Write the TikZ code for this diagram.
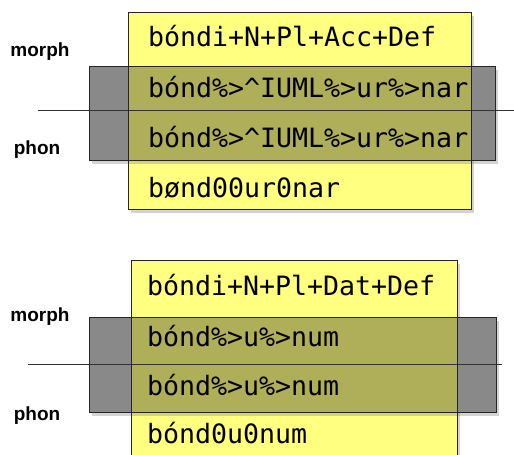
\documentclass[tikz,border=0pt]{standalone}
\usepackage{fontspec}
\newfontfamily\formfont{DejaVu Sans Mono}
\newfontfamily\tierfont{Liberation Sans}
\usetikzlibrary{shadows}

\definecolor{paleyellow}{HTML}{FFFF80}
\definecolor{rulegray}{HTML}{898989}
\definecolor{overlapolive}{HTML}{AFAF5A}

\begin{document}
\begin{tikzpicture}[x=1pt,y=-1pt]
	\tikzset{every node/.style={inner sep=0pt, outer sep=0pt},
		boxshadow/.style={drop shadow={shadow xshift=3pt, shadow yshift=-4pt, opacity=0.35}},
		formbox/.style={rectangle, fill=paleyellow, boxshadow},
		rulebox/.style={rectangle, fill=rulegray, boxshadow},
		boxline/.style={draw=black!85, line width=1pt},
		cutline/.style={draw=black!80, line width=1pt},
		form/.style={anchor=base west, font=\formfont\fontsize{26.6}{30}\selectfont},
		tier/.style={anchor=base, font=\tierfont\bfseries\fontsize{19}{22}\selectfont}}
	\useasboundingbox (0,0) rectangle (514,455);
	\clip (0,0) rectangle (514,455);

	% Acc
	\node[formbox, minimum width=343pt, minimum height=197pt] (accbox) at (299.5,110.5) {};
	\node[rulebox, minimum width=406pt, minimum height=94pt] (accrule) at (292,113) {};
	\fill[overlapolive] (accbox.west |- accrule.north) rectangle (accbox.east |- accrule.south);
	\coordinate (acccutl) at (38,110);
	\coordinate (acccutr) at (514,110);
	\draw[cutline] (acccutl) -- (acccutr);
	\draw[boxline] (accbox.north west) rectangle (accbox.south east);
	\draw[boxline] (accrule.north west) rectangle (accrule.south east);

	\node[form] (acclex) at (148,46) {bóndi+N+Pl+Acc+Def};
	\node[form] (accmid) at (148,97) {bónd\%>\textasciicircum IUML\%>ur\%>nar};
	\node[form] (accmidb) at (148,147) {bónd\%>\textasciicircum IUML\%>ur\%>nar};
	\node[form] (accsurf) at (148,197) {bønd00ur0nar};
	\node[tier] (accmorph) at (40,56) {morph};
	\node[tier] (accphon) at (37,154) {phon};

	% Dat
	\node[formbox, minimum width=326pt, minimum height=210pt] (datbox) at (294,365) {};
	\node[rulebox, minimum width=407pt, minimum height=95pt] (datrule) at (292.5,364.5) {};
	\fill[overlapolive] (datbox.west |- datrule.north) rectangle (datbox.east |- datrule.south);
	\coordinate (datcutl) at (28,364);
	\coordinate (datcutr) at (502,364);
	\draw[cutline] (datcutl) -- (datcutr);
	\draw[boxline] (datbox.north west) rectangle (datbox.south east);
	\draw[boxline] (datrule.north west) rectangle (datrule.south east);

	\node[form] (datlex) at (147,295) {bóndi+N+Pl+Dat+Def};
	\node[form] (datmid) at (147,346) {bónd\%>u\%>num};
	\node[form] (datmidb) at (147,395) {bónd\%>u\%>num};
	\node[form] (datsurf) at (147,443) {bónd0u0num};
	\node[tier] (datmorph) at (40,321) {morph};
	\node[tier] (datphon) at (37,420) {phon};
\end{tikzpicture}
\end{document}
